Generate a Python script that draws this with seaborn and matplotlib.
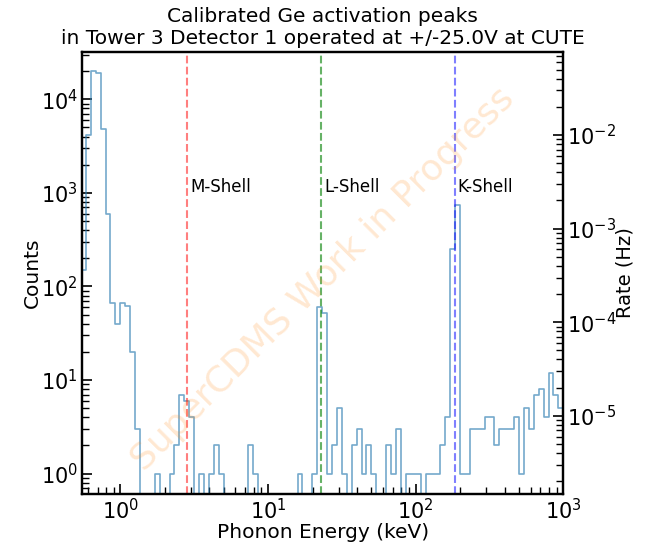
import numpy as np
import pandas as pd
import matplotlib
matplotlib.use("Agg")
import matplotlib.pyplot as plt
import seaborn as sns

# log-spaced energy bins (keV) and counts per bin
bin_edges = list(np.logspace(np.log10(0.5), 3, 100))
counts = [0, 150, 4150, 20000, 18900, 4800, 590, 66, 40, 66,
          62, 20, 3, 0, 0, 0, 1, 0, 0, 1,
          2, 7, 6, 4, 0, 1, 0, 1, 2, 1,
          0, 0, 0, 0, 0, 2, 1, 0, 0, 0,
          0, 0, 0, 0, 0, 1, 0, 0, 1, 61,
          52, 1, 2, 5, 1, 0, 2, 3, 1, 2,
          1, 0, 0, 2, 1, 3, 0, 1, 1, 1,
          0, 1, 1, 1, 2, 4, 254, 740, 1, 1,
          3, 3, 3, 4, 4, 2, 3, 3, 3, 4,
          1, 5, 3, 7, 8, 4, 12, 7, 5]

shells = ["M-Shell", "L-Shell", "K-Shell"]
shell_energy = [2.83, 23.0, 183.5]
shell_colors = ["red", "green", "blue"]

livetime = 4.15e5  # s, counts -> rate
ylim = (0.61, 3.2e4)

e = np.array(bin_edges)
df = pd.DataFrame({"energy": np.sqrt(e[:-1] * e[1:]), "counts": counts})

fig = plt.figure(figsize=(6.52, 5.42), dpi=100)
ax = fig.add_axes([0.126, 0.089, 0.738, 0.815])

sns.histplot(data=df, x="energy", weights="counts", bins=bin_edges, element="step",
             fill=False, color="#2b7bb0", alpha=0.65, linewidth=1.2, ax=ax)
ax.set_xscale("log")
ax.set_yscale("log")
ax.set_xlim(0.55, 1000)
ax.set_ylim(*ylim)

for name, en, c in zip(shells, shell_energy, shell_colors):
    ax.axvline(en, color=c, ls="--", alpha=0.5 if c != "green" else 0.6, lw=1.5)
    ax.text(en * 1.05, 930, name, fontsize=12, va="bottom", ha="left")

ax.text(0.5, 0.485, "SuperCDMS Work in Progress", transform=ax.transAxes,
        rotation=45, fontsize=26, color="#ff8c1a", alpha=0.2,
        ha="center", va="center")

ax.set_xlabel("Phonon Energy (keV)", fontsize=14.5, labelpad=0)
ax.set_ylabel("Counts", fontsize=14.5, labelpad=-1)
ax.set_title("Calibrated Ge activation peaks\n"
             "in Tower 3 Detector 1 operated at +/-25.0V at CUTE", fontsize=14.5)
ax.tick_params(which="both", direction="in", top=False, right=False,
               labelsize=15, pad=3)
ax.tick_params(which="major", length=7, width=1.2)
ax.tick_params(which="minor", length=4.8, width=1)

ax2 = ax.twinx()
ax2.set_yscale("log")
ax2.set_ylim(ylim[0] / livetime, ylim[1] / livetime)
ax2.set_ylabel("Rate (Hz)", fontsize=14, labelpad=-1)
ax2.tick_params(which="both", direction="in", labelsize=15, pad=3)
ax2.tick_params(which="major", length=7, width=1.2)
ax2.tick_params(which="minor", length=4.8, width=1)

for a in (ax, ax2):
    for s in a.spines.values():
        s.set_linewidth(1.6)

fig.savefig("out.png", dpi=100)
